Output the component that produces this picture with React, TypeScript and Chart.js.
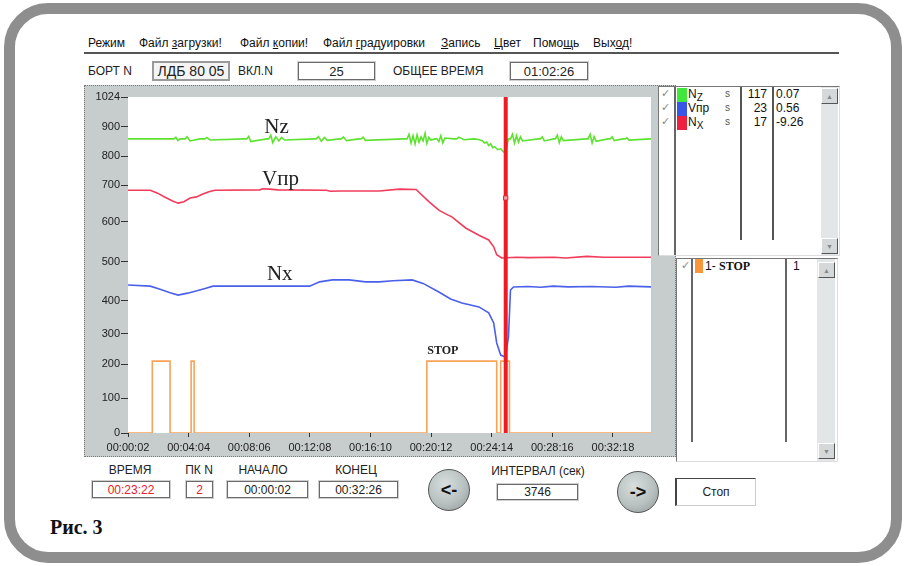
import React, { useEffect, useRef } from 'react';
import { Chart, registerables, LinearScale } from 'chart.js';

// ---------- DATA ----------
const Y_TICK_VALUES = [0, 100, 200, 300, 400, 500, 600, 700, 800, 900, 1024];
// relative height of each y tick label on the (non-uniform) instrument axis
const Y_TICK_FRACTIONS = [0, 0.104, 0.205, 0.295, 0.393, 0.509, 0.628, 0.738, 0.824, 0.911, 1];
const X_TICK_LABELS = ['00:00:02', '00:04:04', '00:08:06', '00:12:08', '00:16:10', '00:20:12', '00:24:14', '00:28:16', '00:32:18'];
const X_START = '00:00:02';
const X_END = '00:34:50';

// times in seconds
const NZ_TIME = [2, 185, 193, 201, 210, 230, 238, 250, 289, 309, 317, 329, 468, 476, 484, 492, 556, 564, 572, 580, 592, 604, 615, 627, 746, 754, 762, 774, 786, 798, 846, 854, 862, 874, 925, 933, 941, 949, 1104, 1116, 1124, 1132, 1140, 1148, 1156, 1164, 1172, 1180, 1188, 1195, 1203, 1211, 1227, 1235, 1243, 1251, 1259, 1267, 1303, 1315, 1323, 1343, 1382, 1402, 1418, 1426, 1434, 1442, 1450, 1458, 1466, 1478, 1490, 1502, 1510, 1521, 1529, 1537, 1545, 1553, 1561, 1569, 1577, 1640, 1648, 1656, 1664, 1700, 1708, 1716, 1724, 1732, 1740, 1831, 1839, 1847, 1855, 1863, 1871, 1919, 1927, 1935, 1943, 1978, 1986, 1994, 2002, 2090];
const NZ_VALUE = [859, 859, 865, 853, 859, 859, 866, 852, 859, 859, 864, 855, 859, 859, 868, 850, 859, 859, 872, 846, 866, 852, 864, 855, 859, 859, 867, 851, 864, 854, 859, 859, 866, 853, 859, 859, 865, 854, 859, 859, 875, 845, 870, 842, 873, 848, 866, 852, 878, 844, 864, 855, 859, 859, 850, 870, 845, 862, 859, 859, 865, 856, 859, 857, 852, 845, 848, 836, 842, 829, 832, 822, 825, 814, 818, 859, 859, 875, 845, 870, 848, 866, 852, 859, 859, 866, 852, 859, 859, 872, 846, 866, 853, 859, 859, 875, 845, 867, 851, 859, 859, 866, 853, 859, 859, 863, 855, 859, 859];

const VPR_TIME = [2, 91, 120, 150, 180, 202, 225, 250, 275, 301, 325, 349, 528, 540, 568, 600, 794, 810, 850, 1005, 1085, 1152, 1203, 1243, 1270, 1295, 1350, 1403, 1442, 1462, 1474, 1494, 1554, 1600, 1703, 1750, 1834, 1900, 2090];
const VPR_VALUE = [686, 686, 678, 667, 657, 651, 655, 665, 668, 676, 682, 686, 687, 690, 689, 687, 686, 683, 684, 684, 689, 688, 655, 632, 622, 614, 585, 567, 555, 538, 518, 510, 512, 511, 512, 510, 514, 512, 512];

const NX_TIME = [2, 91, 130, 170, 202, 240, 277, 310, 341, 500, 727, 767, 818, 885, 950, 1005, 1060, 1136, 1180, 1243, 1290, 1335, 1403, 1442, 1462, 1474, 1490, 1509, 1521, 1529, 1541, 1600, 1650, 1700, 1760, 1850, 1950, 2000, 2090];
const NX_VALUE = [441, 438, 430, 421, 415, 420, 426, 432, 438, 438, 438, 449, 454, 454, 449, 449, 452, 454, 445, 423, 405, 394, 382, 364, 333, 270, 230, 223, 290, 428, 436, 437, 435, 438, 436, 437, 435, 438, 436];

const STOP_TIME = [2, 99, 99, 170, 170, 254, 254, 266, 266, 1195, 1195, 1474, 1474, 1490, 1490, 1525, 1525, 2090];
const STOP_VALUE = [0, 0, 210, 210, 0, 0, 210, 210, 0, 0, 210, 210, 0, 0, 210, 210, 0, 0];

const CURSOR_TIME = 1510;
const CURSOR_MARK_VALUE = 665;

const PLOT_LABELS = [
  { text: 'Nz', t: 595, v: 879, bold: false },
  { text: 'Vпр', t: 611, v: 700, bold: false },
  { text: 'Nx', t: 608, v: 454, bold: false },
  { text: 'STOP', t: 1259, v: 233, bold: true },
];

const MENU = [
  { text: 'Режим', u: -1, x: 88 },
  { text: 'Файл загрузки!', u: 5, x: 139 },
  { text: 'Файл копии!', u: 5, x: 240 },
  { text: 'Файл градуировки', u: 5, x: 323 },
  { text: 'Запись', u: 0, x: 441 },
  { text: 'Цвет', u: 0, x: 494 },
  { text: 'Помощь', u: 4, x: 533 },
  { text: 'Выход!', u: 3, x: 593 },
];

const LIST_ROWS = [
  { name: 'N', sub: 'Z', swatch: '#3fe83a', unit: 's', count: '117', value: '0.07' },
  { name: 'Vпр', sub: '', swatch: '#3a56e8', unit: 's', count: '23', value: '0.56' },
  { name: 'N', sub: 'X', swatch: '#ee2040', unit: 's', count: '17', value: '-9.26' },
];

// ---------- helpers ----------
const toSec = (s: string) => {
  const [h, m, x] = s.split(':').map(Number);
  return h * 3600 + m * 60 + x;
};
const fmt = (v: number) => {
  const h = Math.floor(v / 3600), m = Math.floor((v % 3600) / 60), s = Math.round(v % 60);
  const p = (n: number) => String(n).padStart(2, '0');
  return `${p(h)}:${p(m)}:${p(s)}`;
};
const pts = (t: number[], v: number[]) => t.map((x, i) => ({ x, y: v[i] }));

function valueToFraction(v: number) {
  const vs = Y_TICK_VALUES, fs = Y_TICK_FRACTIONS;
  if (v <= vs[0]) return fs[0] + (v - vs[0]) * (fs[1] - fs[0]) / (vs[1] - vs[0]);
  for (let i = 1; i < vs.length; i++) {
    if (v <= vs[i]) return fs[i - 1] + (v - vs[i - 1]) * (fs[i] - fs[i - 1]) / (vs[i] - vs[i - 1]);
  }
  const n = vs.length - 1;
  return fs[n] + (v - vs[n]) * (fs[n] - fs[n - 1]) / (vs[n] - vs[n - 1]);
}
function fractionToValue(f: number) {
  const vs = Y_TICK_VALUES, fs = Y_TICK_FRACTIONS;
  for (let i = 1; i < fs.length; i++) {
    if (f <= fs[i]) return vs[i - 1] + (f - fs[i - 1]) * (vs[i] - vs[i - 1]) / (fs[i] - fs[i - 1]);
  }
  return vs[vs.length - 1];
}

class PiecewiseScale extends LinearScale {
  static id = 'piecewise';
  getPixelForValue(value: number) {
    return (this as any).getPixelForDecimal(valueToFraction(value));
  }
  getValueForPixel(pixel: number) {
    return fractionToValue((this as any).getDecimalForPixel(pixel));
  }
}

Chart.register(...registerables, PiecewiseScale as any);

const UI_FONT = '"Liberation Sans", Arial, sans-serif';
const SERIF = '"Liberation Serif", "Times New Roman", serif';

const plotPlugin = {
  id: 'plotPlugin',
  beforeDraw(chart: any) {
    const { ctx, chartArea: a } = chart;
    ctx.save();
    ctx.fillStyle = '#ffffff';
    ctx.fillRect(a.left, a.top, a.right - a.left, a.bottom - a.top);
    ctx.restore();
  },
  afterDatasetsDraw(chart: any) {
    const { ctx } = chart;
    const xs = chart.scales.x, ys = chart.scales.y;
    ctx.save();
    ctx.fillStyle = '#222';
    ctx.textAlign = 'center';
    ctx.textBaseline = 'alphabetic';
    PLOT_LABELS.forEach((l) => {
      ctx.font = l.bold ? `bold 12px ${SERIF}` : `21px ${SERIF}`;
      ctx.fillText(l.text, xs.getPixelForValue(l.t), ys.getPixelForValue(l.v));
    });
    ctx.restore();
  },
};

function PlotChart() {
  const ref = useRef<HTMLCanvasElement>(null);
  useEffect(() => {
    if (!ref.current) return;
    const chart = new Chart(ref.current, {
      type: 'line',
      data: {
        datasets: [
          {
            label: 'cursor',
            data: [{ x: CURSOR_TIME, y: 0 }, { x: CURSOR_TIME, y: 1024 }],
            borderColor: '#ec1c24',
            borderWidth: 4,
            pointRadius: 0,
            order: -2,
          },
          {
            label: 'cursor mark',
            data: [{ x: CURSOR_TIME, y: CURSOR_MARK_VALUE }],
            showLine: false,
            pointStyle: 'rect',
            pointRadius: 3,
            pointBackgroundColor: '#f7a0a8',
            pointBorderColor: '#ec1c24',
            pointBorderWidth: 1,
            order: -3,
          },
          { label: 'Nz', data: pts(NZ_TIME, NZ_VALUE), borderColor: '#5de22f', borderWidth: 1.6, pointRadius: 0 },
          { label: 'Vпр', data: pts(VPR_TIME, VPR_VALUE), borderColor: '#f23c5c', borderWidth: 1.6, pointRadius: 0 },
          { label: 'Nx', data: pts(NX_TIME, NX_VALUE), borderColor: '#4a60ea', borderWidth: 1.6, pointRadius: 0 },
          { label: 'STOP', data: pts(STOP_TIME, STOP_VALUE), borderColor: '#f7a35a', borderWidth: 1.6, pointRadius: 0 },
        ] as any,
      },
      options: {
        animation: false,
        responsive: false,
        devicePixelRatio: 1,
        layout: { padding: { left: 0, top: 12, right: 3, bottom: 0 } },
        plugins: { legend: { display: false }, tooltip: { enabled: false } },
        scales: {
          x: {
            type: 'linear',
            min: toSec(X_START),
            max: toSec(X_END),
            border: { display: false },
            grid: { drawOnChartArea: false, drawTicks: true, tickLength: 4, color: '#333' },
            afterBuildTicks: (s: any) => { s.ticks = X_TICK_LABELS.map((l) => ({ value: toSec(l) })); },
            afterFit: (s: any) => { s.height = 24; },
            ticks: {
              autoSkip: false, maxRotation: 0, padding: 4, color: '#222',
              font: { family: UI_FONT, size: 11 },
              callback: (v: any) => fmt(Number(v)),
            },
          },
          y: {
            type: 'piecewise' as any,
            min: 0,
            max: 1024,
            border: { display: false },
            grid: { drawOnChartArea: false, drawTicks: true, tickLength: 7, color: '#333' },
            afterBuildTicks: (s: any) => { s.ticks = Y_TICK_VALUES.map((v) => ({ value: v })); },
            afterFit: (s: any) => { s.width = 44; },
            ticks: {
              padding: 1, color: '#222',
              font: { family: UI_FONT, size: 11 },
              callback: (v: any) => String(v),
            },
          },
        },
      } as any,
      plugins: [plotPlugin],
    });
    return () => chart.destroy();
  }, []);
  return <canvas ref={ref} width={572} height={372} style={{ display: 'block', width: 572, height: 372 }} />;
}

const abs = (left: number, top: number, extra: any = {}) => ({ position: 'absolute' as const, left, top, ...extra });

function Field({ left, top, w, h, text, size = 12, color = '#222' }: any) {
  return (
    <div style={abs(left, top, {
      width: w, height: h, boxSizing: 'border-box', border: '1px solid #6a6a6a',
      boxShadow: '0 0 0 1px #cfcfcf', background: '#fff', display: 'flex', alignItems: 'center',
      justifyContent: 'center', fontSize: size, color, fontFamily: UI_FONT,
    })}>{text}</div>
  );
}

function Label({ cx, top, text }: any) {
  return <div style={abs(cx - 60, top, { width: 120, textAlign: 'center', fontSize: 12, color: '#222', fontFamily: UI_FONT })}>{text}</div>;
}

function RoundBtn({ cx, cy, text }: any) {
  return (
    <div style={abs(cx - 21, cy - 21, {
      width: 42, height: 42, borderRadius: '50%', boxSizing: 'border-box', border: '1px solid #555',
      background: 'radial-gradient(circle at 40% 35%, #d8dede 0%, #b8c0c0 55%, #8e9696 100%)',
      display: 'flex', alignItems: 'center', justifyContent: 'center',
      fontFamily: UI_FONT, fontWeight: 'bold', fontSize: 18, color: '#111',
    })}>{text}</div>
  );
}

function ScrollBtn({ left, top, up }: any) {
  return (
    <div style={abs(left, top, {
      width: 17, height: 16, boxSizing: 'border-box', background: '#d4d8d8',
      borderTop: '1px solid #fff', borderLeft: '1px solid #fff', borderRight: '1px solid #555', borderBottom: '1px solid #555',
      display: 'flex', alignItems: 'center', justifyContent: 'center', fontSize: 7, color: '#888',
    })}>{up ? '▲' : '▼'}</div>
  );
}

export default function App() {
  return (
    <div style={{ position: 'absolute', left: 0, top: 0, width: 906, height: 566, background: '#fff', overflow: 'hidden', fontFamily: UI_FONT }}>
      {/* outer frame */}
      <div style={abs(4, 3, { width: 898, height: 560, boxSizing: 'border-box', border: '11px solid #8e8e8e', borderRadius: 44 })} />

      {/* menu */}
      {MENU.map((m) => (
        <div key={m.text} style={abs(m.x, 36, { fontSize: 12, color: '#111', whiteSpace: 'nowrap' })}>
          {m.u < 0 ? m.text : (<>{m.text.slice(0, m.u)}<u>{m.text[m.u]}</u>{m.text.slice(m.u + 1)}</>)}
        </div>
      ))}
      <div style={abs(84, 52, { width: 755, height: 2, background: '#555' })} />

      {/* header row */}
      <div style={abs(88, 64, { fontSize: 12, color: '#222' })}>БОРТ N</div>
      <div style={abs(152, 61, {
        width: 78, height: 20, boxSizing: 'border-box', border: '2px solid #9a9a9a', background: '#f4f4f4',
        display: 'flex', alignItems: 'center', justifyContent: 'center', fontSize: 14, color: '#222',
      })}>ЛДБ 80 05</div>
      <div style={abs(238, 64, { fontSize: 12, color: '#222' })}>ВКЛ.N</div>
      <Field left={298} top={62} w={77} h={18} text="25" size={13} />
      <div style={abs(393, 64, { fontSize: 12, color: '#222' })}>ОБЩЕЕ ВРЕМЯ</div>
      <Field left={510} top={62} w={78} h={18} text="01:02:26" size={13} />

      {/* chart panel */}
      <div style={abs(84, 85, { width: 592, height: 372, boxSizing: 'border-box', background: '#c6cdcc', border: '1px dotted #777' })} />
      <div style={abs(84, 85)}><PlotChart /></div>

      {/* upper list */}
      <div style={abs(658, 86, { width: 182, height: 170, boxSizing: 'border-box', background: '#fff', borderTop: '1px solid #777', borderLeft: '1px solid #777', borderRight: '1px solid #ddd', borderBottom: '1px solid #ddd' })} />
      <div style={abs(674, 87, { width: 2, height: 168, background: '#666' })} />
      {LIST_ROWS.map((r, i) => (
        <React.Fragment key={i}>
          <div style={abs(661, 87 + i * 14, { fontSize: 11, color: '#888', fontFamily: '"DejaVu Sans", sans-serif' })}>✓</div>
          <div style={abs(677, 88 + i * 14, { width: 10, height: 14, background: r.swatch })} />
          <div style={abs(688, 87 + i * 14, { fontSize: 12, color: '#111', whiteSpace: 'nowrap' })}>
            {r.name}{r.sub ? <span style={{ fontSize: 10, position: 'relative', top: 3 }}>{r.sub}</span> : null}
          </div>
          <div style={abs(725, 88 + i * 14, { fontSize: 10, color: '#555' })}>{r.unit}</div>
          <div style={abs(742, 87 + i * 14, { width: 25, textAlign: 'right', fontSize: 12, color: '#111' })}>{r.count}</div>
          <div style={abs(776, 87 + i * 14, { fontSize: 12, color: '#111' })}>{r.value}</div>
        </React.Fragment>
      ))}
      <div style={abs(740, 87, { width: 2, height: 153, background: '#555' })} />
      <div style={abs(772, 87, { width: 2, height: 153, background: '#555' })} />
      <div style={abs(821, 87, { width: 17, height: 168, background: '#e2e6e6' })} />
      <ScrollBtn left={821} top={88} up />
      <ScrollBtn left={821} top={238} />

      {/* lower list */}
      <div style={abs(676, 258, { width: 162, height: 204, boxSizing: 'border-box', background: '#fff', borderTop: '1px solid #777', borderLeft: '1px solid #777', borderRight: '1px solid #ddd', borderBottom: '1px solid #ddd' })} />
      <div style={abs(681, 259, { fontSize: 11, color: '#888', fontFamily: '"DejaVu Sans", sans-serif' })}>✓</div>
      <div style={abs(691, 259, { width: 2, height: 183, background: '#666' })} />
      <div style={abs(695, 259, { width: 8, height: 14, background: '#f7963a' })} />
      <div style={abs(705, 259, { fontSize: 12, color: '#111', whiteSpace: 'nowrap' })}>1- <span style={{ fontFamily: SERIF, fontWeight: 'bold', fontSize: 12 }}>STOP</span></div>
      <div style={abs(785, 259, { width: 2, height: 183, background: '#666' })} />
      <div style={abs(793, 259, { fontSize: 12, color: '#111' })}>1</div>
      <div style={abs(817, 259, { width: 18, height: 202, background: '#e2e6e6' })} />
      <ScrollBtn left={818} top={262} up />
      <ScrollBtn left={818} top={443} />

      {/* bottom controls */}
      <Label cx={130} top={463} text="ВРЕМЯ" />
      <Field left={92} top={481} w={78} h={17} text="00:23:22" color="#e8202a" />
      <Label cx={199} top={463} text="ПК N" />
      <Field left={186} top={481} w={27} h={17} text="2" color="#e8202a" />
      <Label cx={263} top={463} text="НАЧАЛО" />
      <Field left={227} top={481} w={81} h={17} text="00:00:02" />
      <Label cx={356} top={463} text="КОНЕЦ" />
      <Field left={319} top={481} w={79} h={17} text="00:32:26" />
      <RoundBtn cx={449} cy={490} text="<-" />
      <Label cx={538} top={464} text="ИНТЕРВАЛ (сек)" />
      <Field left={497} top={484} w={81} h={16} text="3746" />
      <RoundBtn cx={638} cy={492} text="->" />
      <div style={abs(675, 478, {
        width: 81, height: 28, boxSizing: 'border-box', background: '#fff',
        borderTop: '1px solid #444', borderLeft: '2px solid #444', borderRight: '1px solid #ccc', borderBottom: '1px solid #ccc',
        display: 'flex', alignItems: 'center', justifyContent: 'center', fontSize: 12, color: '#222',
      })}>Стоп</div>

      <div style={abs(50, 516, { fontFamily: SERIF, fontWeight: 'bold', fontSize: 20, color: '#111' })}>Рис. 3</div>
    </div>
  );
}
